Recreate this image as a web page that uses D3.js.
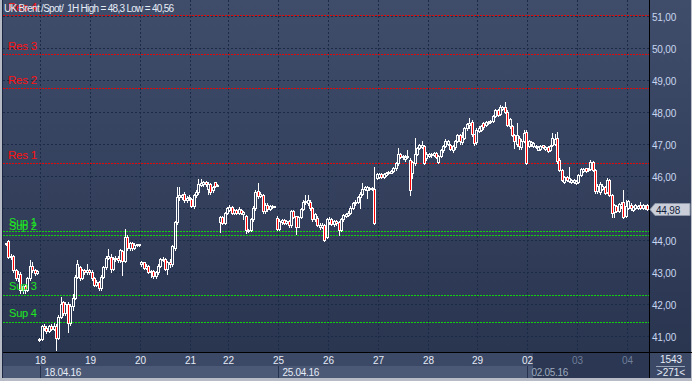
<!DOCTYPE html>
<html><head><meta charset="utf-8">
<script src="https://cdn.jsdelivr.net/npm/d3@7"></script>
<style>
html,body{margin:0;padding:0;background:#b6bbc5;}
svg{display:block;font-family:"Liberation Sans",Arial,sans-serif;}
</style>
</head><body>
<svg id="c" width="692" height="381"></svg>
<script>
// ---------- DATA (hourly OHLC) ----------
const opens=[43.88,43.98,43.46,43.5,43.06,42.8,42.95,42.45,42.55,42.45,42.8,43.2,43.05,42.98,
40.9,40.92,41.3,41.25,41.15,41.3,41.22,41.32,40.95,41.6,42.05,41.72,42.0,41.4,41.95,42.2,42.85,43.15,42.82,43.05,43.0,43.05,
43.0,42.8,42.6,42.7,42.5,42.85,43.15,43.45,43.48,43.08,43.42,43.45,43.38,43.65,43.35,44.1,43.75,43.9,43.75,43.85,43.86,
43.25,43.3,43.12,43.2,43.0,43.02,42.86,43.0,43.2,43.4,43.42,43.1,43.3,43.25,43.75,44.55,45.35,45.33,45.45,45.25,45.32,
45.27,45.06,45.4,45.5,45.72,45.75,45.8,45.6,45.75,45.55,45.8,45.7,
44.55,44.72,44.53,44.84,44.95,45.03,44.85,44.94,44.85,44.95,44.8,44.75,44.28,44.3,44.65,45.0,45.54,45.38,45.42,44.9,45.1,44.98,45.03,45.04,
44.7,44.35,44.55,44.62,44.53,44.6,44.46,44.9,44.74,
44.42,44.72,44.98,45.18,45.15,45.2,44.99,44.65,44.7,44.4,44.42,44.48,44.1,44.55,44.65,44.5,44.6,44.55,44.32,44.65,44.75,44.78,44.85,45.0,45.15,45.2,45.35,45.45,45.58,45.55,45.58,45.6,45.6,
45.95,45.98,46.05,45.97,46.02,46.08,46.1,46.15,46.25,46.4,46.68,46.58,46.52,46.6,46.5,46.08,46.4,46.7,46.87,46.92,46.95,46.55,46.62,46.66,46.65,46.72,46.45,46.62,46.8,46.95,47.0,46.97,46.8,46.9,47.1,47.28,47.05,47.2,47.5,47.6,47.7,47.3,47.05,47.42,47.45,47.65,47.6,47.65,47.68,47.72,47.88,48.05,47.95,48.1,48.15,48.0,47.55,47.55,47.28,47.0,47.2,46.9,47.1,47.38,
46.95,47.0,46.95,46.9,46.82,46.85,46.96,46.85,46.92,46.8,46.97,47.0,47.18,46.5,46.2,45.82,45.98,45.83,45.8,45.8,45.78,45.82,46.02,46.15,46.24,46.18,46.22,46.45,46.2,45.52,45.5,45.6,45.67,45.5,45.88,45.42,44.88,45.05,44.92,45.05,45.2,44.75,45.0,45.1,44.94,45.0,45.0,45.1,45.0,45.02,45.08];
const highs=[43.92,44.0,43.55,43.52,43.08,43.02,43.0,42.6,42.6,42.85,43.37,43.3,43.1,43.05,
40.95,41.35,41.38,41.3,41.33,41.36,41.4,41.36,41.65,42.23,42.1,42.05,42.05,42.0,42.3,42.9,43.37,43.2,43.1,43.1,43.25,43.1,
43.05,42.85,42.75,42.72,42.9,43.2,43.5,43.71,43.55,43.48,43.5,43.5,43.72,43.7,44.33,44.15,43.95,43.95,43.9,43.88,43.88,
43.35,43.32,43.25,43.22,43.05,43.05,43.02,43.25,43.45,43.48,43.45,43.35,43.4,43.85,44.6,45.67,45.67,45.45,45.5,45.38,45.4,
45.3,45.45,45.55,45.9,45.9,45.85,45.85,45.8,45.78,45.7,45.82,45.75,
44.75,44.75,44.88,45.02,45.08,45.05,44.98,44.97,45.02,44.97,44.92,44.78,44.33,44.7,45.05,45.55,45.79,45.5,45.45,45.15,45.15,45.08,45.08,45.07,
44.75,44.65,44.65,44.65,44.64,44.62,44.95,44.95,44.76,
44.75,45.0,45.25,45.4,45.42,45.25,45.02,44.85,44.75,44.52,44.52,44.5,44.68,44.72,44.7,44.63,44.62,44.58,44.7,44.8,44.85,44.9,45.05,45.18,45.25,45.38,45.5,45.78,45.7,45.7,45.65,45.66,46.29,
46.1,46.08,46.08,46.08,46.12,46.15,46.2,46.28,46.45,46.87,46.72,46.66,46.65,46.8,46.55,46.48,47.18,46.9,47.0,47.08,46.98,46.75,46.72,46.73,46.74,46.74,46.65,46.83,46.98,47.15,47.12,47.0,46.98,47.12,47.3,47.32,47.38,47.52,47.65,47.8,47.75,47.32,47.5,47.55,47.58,47.68,47.72,47.72,47.75,47.92,48.08,48.1,48.22,48.2,48.3,48.05,47.82,47.6,47.3,47.65,47.25,47.15,47.45,47.45,
47.12,47.1,47.05,46.98,46.93,46.97,46.98,46.95,46.95,46.97,47.33,47.3,47.38,46.55,46.22,46.0,46.0,46.28,45.92,45.9,45.88,46.05,46.25,46.25,46.26,46.26,46.5,46.48,46.22,45.74,45.8,45.75,45.7,45.93,45.9,45.45,45.12,45.08,45.16,45.2,45.56,45.25,45.26,45.15,45.05,45.12,45.1,45.2,45.12,45.1,45.12];
const lows=[43.85,43.44,43.4,43.0,42.75,42.72,42.34,42.35,42.35,42.4,42.75,43.0,42.9,42.95,
40.85,40.88,41.2,41.1,41.12,41.18,41.2,40.56,40.9,41.55,41.65,41.65,41.13,41.35,41.8,42.15,42.8,42.75,42.78,42.95,42.95,42.95,
42.75,42.55,42.55,42.45,42.45,42.8,43.1,43.4,43.0,43.05,43.35,43.3,43.3,42.9,43.3,43.7,43.7,43.7,43.72,43.82,43.82,
43.2,43.1,43.08,42.98,42.85,42.8,42.82,42.95,43.15,43.35,43.05,42.95,43.15,43.2,43.7,44.5,45.25,45.28,45.2,45.2,45.25,
45.02,45.0,45.35,45.45,45.68,45.7,45.7,45.45,45.45,45.5,45.65,45.68,
44.26,44.5,44.5,44.8,44.92,44.8,44.82,44.8,44.82,44.8,44.65,44.23,44.24,44.28,44.6,44.95,45.3,45.35,44.85,44.85,44.92,44.95,45.0,45.02,
44.32,44.3,44.5,44.5,44.5,44.42,44.42,44.7,44.2,
44.4,44.7,44.95,45.12,45.1,44.95,44.6,44.6,44.44,44.35,44.38,43.98,44.05,44.5,44.48,44.45,44.48,44.16,44.28,44.6,44.72,44.75,44.82,44.96,45.1,45.15,45.0,45.4,45.55,45.3,45.55,45.57,44.5,
45.9,45.95,45.93,45.94,46.0,46.05,46.08,46.12,46.2,46.35,46.55,46.52,46.48,46.55,45.4,45.95,46.35,46.65,46.84,46.88,46.38,46.5,46.58,46.6,46.62,46.55,46.4,46.58,46.75,46.92,46.98,46.8,46.75,46.85,47.05,47.0,47.0,47.15,47.45,47.5,47.25,46.98,47.0,47.38,47.4,47.48,47.56,47.62,47.65,47.7,47.85,47.88,47.9,48.05,47.98,47.55,47.5,47.25,46.87,46.95,46.85,46.85,47.05,46.38,
46.92,46.95,46.9,46.86,46.8,46.8,46.86,46.8,46.74,46.77,46.95,46.98,46.42,46.15,45.85,45.78,45.85,45.8,45.77,45.77,45.75,45.78,46.0,46.12,46.14,46.15,46.2,46.17,45.48,45.48,45.45,45.55,45.44,45.46,45.38,44.73,44.73,44.86,44.88,45.0,44.7,44.72,44.97,44.95,44.9,44.96,44.97,44.96,44.97,44.98,44.95];
const closes=[43.9,43.46,43.5,43.06,42.81,42.95,42.45,42.55,42.45,42.8,43.2,43.05,42.98,43.02,
40.92,41.3,41.25,41.15,41.3,41.22,41.32,40.95,41.6,42.0,41.72,42.0,41.4,41.95,42.2,42.85,43.25,42.82,43.05,43.0,43.05,43.0,
42.8,42.6,42.7,42.5,42.85,43.15,43.45,43.5,43.08,43.42,43.45,43.38,43.68,43.35,44.1,43.75,43.9,43.75,43.85,43.86,43.85,
43.3,43.12,43.2,43.0,43.02,42.86,43.0,43.2,43.4,43.42,43.1,43.3,43.25,43.8,44.55,45.35,45.4,45.4,45.25,45.32,45.35,
45.06,45.4,45.5,45.75,45.78,45.8,45.75,45.75,45.5,45.65,45.7,45.72,
44.72,44.53,44.84,45.0,45.02,44.85,44.94,44.85,44.97,44.85,44.88,44.32,44.3,44.65,45.0,45.5,45.38,45.45,44.9,45.1,44.98,45.05,45.05,45.05,
44.35,44.6,44.62,44.53,44.6,44.46,44.9,44.72,44.42,
44.72,44.98,45.2,45.22,45.25,44.99,44.65,44.8,44.47,44.47,44.48,44.0,44.65,44.65,44.5,44.6,44.52,44.32,44.65,44.78,44.82,44.85,45.0,45.15,45.2,45.35,45.45,45.6,45.65,45.65,45.62,45.62,44.52,
46.05,46.05,45.97,46.05,46.1,46.12,46.15,46.25,46.4,46.7,46.58,46.62,46.6,46.62,45.56,46.45,46.7,46.87,46.96,46.98,46.42,46.7,46.7,46.7,46.72,46.6,46.62,46.8,46.95,47.1,47.08,46.85,46.95,47.1,47.28,47.08,47.22,47.5,47.62,47.66,47.3,47.03,47.45,47.5,47.55,47.52,47.68,47.7,47.72,47.88,48.05,47.92,48.15,48.15,48.0,47.6,47.78,47.28,47.08,47.28,46.95,47.1,47.35,46.4,
47.1,47.05,47.02,46.95,46.9,46.95,46.9,46.92,46.77,46.95,47.2,47.15,46.46,46.2,45.88,45.97,45.88,45.93,45.88,45.86,45.85,46.02,46.22,46.22,46.17,46.23,46.45,46.2,45.52,45.7,45.75,45.68,45.47,45.88,45.42,44.85,45.08,44.9,45.12,45.12,44.72,45.05,45.22,45.0,45.02,45.08,45.06,45.0,45.08,45.06,44.98];

const priceTicks=[41,42,43,44,45,46,47,48,49,50,51];
const dayLabels=["18","19","20","21","22","25","26","27","28","29","02","03","04"];
const dayStartBar=[15,36,57,78,94,115,136,157,178,199,220,241,262];
const weekLabels=["18.04.16","25.04.16","02.05.16"];
const weekStartBar=[15,115,220];
const resNames=["Res 1","Res 2","Res 3","Res 4"];
const resLevels=[46.40,48.75,49.81,51.03];
const supNames=["Sup 1","Sup 2","Sup 3","Sup 4"];
const supLevels=[44.27,44.15,42.27,41.43];
const lastPrice=44.98;
const title="UK Brent /Spot/  1H High = 48,3 Low = 40,56";
const totalBars="1543", visibleBars=">271<";

// ---------- DRAW ----------
const svg=d3.select("#c");
const fmt=v=>v.toFixed(2).replace(".",",");
const plotL=3, axisX=649, axisY=352;
const N=closes.length;
const x=d3.scaleLinear().domain([0,N-1]).range([6,647.25]);
const y=d3.scaleLinear().domain([41,51]).range([336,16]);
const bars=closes.map((c,i)=>({i,o:opens[i],h:highs[i],l:lows[i],c}));

const defs=svg.append("defs");
const gr=defs.append("linearGradient").attr("id","bg").attr("x1",0).attr("y1",0).attr("x2",0).attr("y2",1);
gr.append("stop").attr("offset","0%").attr("stop-color","#3f4d6b");
gr.append("stop").attr("offset","100%").attr("stop-color","#2a3550");

svg.append("rect").attr("x",0).attr("y",0).attr("width",692).attr("height",381).attr("fill","#b6bbc5");
svg.append("rect").attr("x",plotL).attr("y",0).attr("width",axisX-plotL).attr("height",axisY).attr("fill","url(#bg)");
svg.append("rect").attr("x",axisX).attr("y",0).attr("width",692-axisX-1).attr("height",axisY).attr("fill","url(#bg)");
svg.append("line").attr("x1",2.5).attr("x2",2.5).attr("y1",0).attr("y2",378).attr("stroke","#1c2640");

// grid
const grid=svg.append("g").attr("stroke","#1b2a47").attr("stroke-dasharray","2,2").attr("stroke-width",1);
grid.selectAll("line.h").data(priceTicks).join("line").attr("class","h")
  .attr("x1",plotL).attr("x2",axisX).attr("y1",d=>Math.round(y(d))+0.5).attr("y2",d=>Math.round(y(d))+0.5);
const dayX=b=>Math.round(x(b-0.5))+0.5;
grid.selectAll("line.v").data(dayStartBar).join("line").attr("class","v")
  .attr("x1",dayX).attr("x2",dayX).attr("y1",0).attr("y2",axisY);

// levels
const lv=svg.append("g");
lv.selectAll("line.res").data(resLevels).join("line").attr("class","res")
  .attr("x1",plotL).attr("x2",axisX).attr("y1",d=>Math.round(y(d))+0.5).attr("y2",d=>Math.round(y(d))+0.5)
  .attr("stroke","#e00a0a").attr("stroke-dasharray","2,1");
lv.selectAll("line.sup").data(supLevels).join("line").attr("class","sup")
  .attr("x1",plotL).attr("x2",axisX).attr("y1",d=>Math.round(y(d))+0.5).attr("y2",d=>Math.round(y(d))+0.5)
  .attr("stroke","#10d010").attr("stroke-dasharray","2,1");

// candles
const cg=svg.append("g");
const cx=d=>Math.round(x(d.i));
const yt=d=>Math.round(y(Math.max(d.o,d.c)));
const yb=d=>Math.max(Math.round(y(Math.min(d.o,d.c))),yt(d)+1);
cg.selectAll("line.wu").data(bars).join("line").attr("class","wu")
  .attr("x1",d=>cx(d)+0.5).attr("x2",d=>cx(d)+0.5)
  .attr("y1",d=>Math.round(y(d.h))).attr("y2",d=>yt(d)).attr("stroke","#fff");
cg.selectAll("line.wd").data(bars).join("line").attr("class","wd")
  .attr("x1",d=>cx(d)+0.5).attr("x2",d=>cx(d)+0.5)
  .attr("y1",d=>yb(d)).attr("y2",d=>Math.round(y(d.l))+1).attr("stroke","#fff");
cg.selectAll("rect").data(bars).join("rect")
  .attr("x",d=>cx(d)-0.5).attr("width",2)
  .attr("y",d=>yt(d)+0.5).attr("height",d=>yb(d)-yt(d))
  .attr("fill",d=>d.c<d.o?"#ff0000":"none").attr("stroke","#fff").attr("stroke-width",1);

// level labels
svg.selectAll("text.res").data(resLevels).join("text").attr("class","res")
  .attr("x",8).attr("y",d=>Math.round(y(d))-4).text((d,i)=>resNames[i])
  .attr("fill","#ff1010").attr("font-size","11.5px").attr("letter-spacing","-0.2px");
svg.selectAll("text.sup").data(supLevels).join("text").attr("class","sup")
  .attr("x",9).attr("y",d=>Math.round(y(d))-5).text((d,i)=>supNames[i])
  .attr("fill","#1ee81e").attr("font-size","11px").attr("letter-spacing","-0.2px");

// title
svg.append("text").attr("x",4).attr("y",12).attr("xml:space","preserve").style("white-space","pre")
  .attr("fill","#e6ecf6").attr("font-size","10px").attr("letter-spacing","-0.7px").text(title);

// axis lines
svg.append("line").attr("x1",axisX+0.5).attr("x2",axisX+0.5).attr("y1",0).attr("y2",378).attr("stroke","#000");
svg.append("line").attr("x1",plotL).attr("x2",692).attr("y1",axisY+0.5).attr("y2",axisY+0.5).attr("stroke","#000");

// price labels (the one hidden by the last-price marker is left out)
const ly=Math.round(y(lastPrice))+0.5;
svg.selectAll("text.pt").data(priceTicks.filter(t=>Math.abs(y(t)-ly)>9)).join("text").attr("class","pt")
  .attr("x",652).attr("y",d=>Math.round(y(d))+4.5).text(fmt)
  .attr("fill","#c8d6f0").attr("font-size","10px").attr("letter-spacing","-0.2px");

// last price marker
svg.append("path").attr("d",`M650,${ly} L655,${ly-6} L690,${ly-6} L690,${ly+6} L655,${ly+6} Z`)
  .attr("fill","#c9ced8").attr("stroke","#8d96a8");
svg.append("text").attr("x",656).attr("y",ly+4).text(fmt(lastPrice))
  .attr("fill","#13203c").attr("font-size","10px").attr("letter-spacing","-0.2px");

// bottom area
const darkStart=533;
svg.append("rect").attr("x",plotL).attr("y",axisY+1).attr("width",axisX-plotL).attr("height",13).attr("fill","#3b4866");
svg.append("rect").attr("x",plotL).attr("y",366).attr("width",axisX-plotL).attr("height",12).attr("fill","#4b5876");
svg.append("rect").attr("x",darkStart).attr("y",axisY+1).attr("width",axisX-darkStart).attr("height",25).attr("fill","#2b3753");
svg.append("rect").attr("x",axisX+1).attr("y",axisY+1).attr("width",692-axisX-2).attr("height",25).attr("fill","#3b4866");
svg.append("line").attr("x1",axisX+0.5).attr("x2",axisX+0.5).attr("y1",axisY).attr("y2",378).attr("stroke","#000");

svg.selectAll("text.day").data(dayStartBar).join("text").attr("class","day")
  .attr("x",dayX).attr("y",364).attr("text-anchor","middle").text((d,i)=>dayLabels[i])
  .attr("fill",d=>dayX(d)>darkStart+5?"#6f7e99":"#e6ecf6").attr("font-size","10px");
svg.selectAll("line.wk").data(weekStartBar).join("line").attr("class","wk")
  .attr("x1",dayX).attr("x2",dayX).attr("y1",366).attr("y2",378).attr("stroke","#26324d");
svg.selectAll("text.wk").data(weekStartBar).join("text").attr("class","wk")
  .attr("x",d=>dayX(d)+4).attr("y",376).text((d,i)=>weekLabels[i])
  .attr("fill",d=>dayX(d)>darkStart-10?"#9ea9bc":"#e6ecf6").attr("font-size","10px").attr("letter-spacing","-0.3px");

svg.append("text").attr("x",671).attr("y",363).attr("text-anchor","middle").text(totalBars)
  .attr("fill","#e6ecf6").attr("font-size","10px");
svg.append("line").attr("x1",656).attr("x2",685).attr("y1",366.5).attr("y2",366.5).attr("stroke","#9aa6ba");
svg.append("text").attr("x",671).attr("y",375.5).attr("text-anchor","middle").text(visibleBars)
  .attr("fill","#e6ecf6").attr("font-size","10px");
</script>
</body></html>
